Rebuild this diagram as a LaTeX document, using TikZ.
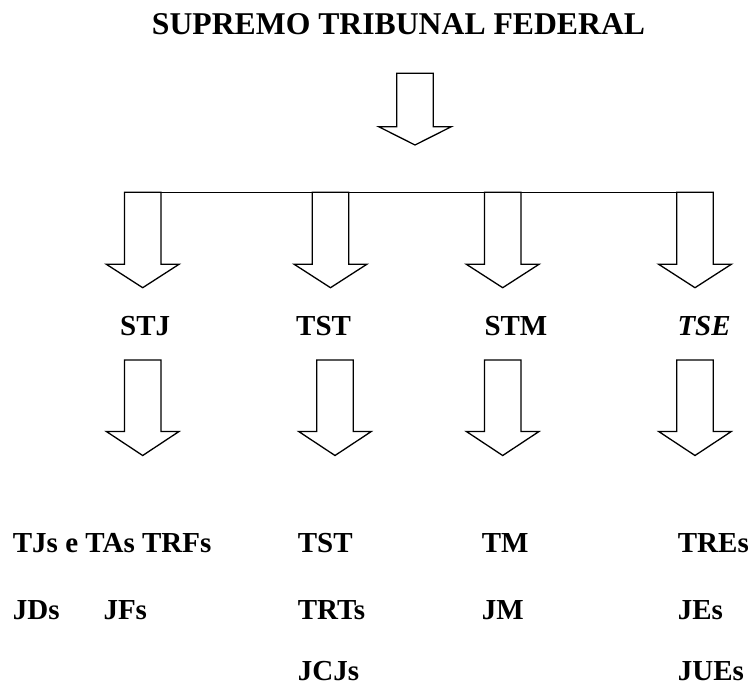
\documentclass[tikz,border=0pt]{standalone}
\usepackage{fontspec}
\setmainfont{Liberation Serif}
\newcommand\blockarrow[5]{% cx, top, headstart, tip, name
  \draw[arrowshape] (#1-18.3,#2) -- (#1+18.3,#2) -- (#1+18.3,#3) -- (#1+36.3,#3)
    -- (#1,#4) coordinate (#5) -- (#1-36.3,#3) -- (#1-18.3,#3) -- cycle;}
\begin{document}
\begin{tikzpicture}[x=1pt,y=-1pt,
  arrowshape/.style={draw=black,line width=1.3pt,fill=white,line join=miter},
  titlefont/.style={font=\fontsize{31.7}{38}\selectfont\bfseries,inner sep=0pt,anchor=base},
  lbl/.style={font=\fontsize{29}{35}\selectfont\bfseries,inner sep=0pt,anchor=base west},
  barline/.style={draw=black,line width=1.3pt}]
\useasboundingbox (0,0) rectangle (748,686);
\node[titlefont] (stf) at (398.5,34) {SUPREMO TRIBUNAL FEDERAL};
\blockarrow{415}{73.3}{126.7}{145}{a0}
\draw[barline] (124.4,192.3) coordinate (bl) -- (713.3,192.3) coordinate (br);
\blockarrow{142.7}{192.3}{264.3}{287.7}{a1}
\blockarrow{330.5}{192.3}{264.3}{287.7}{a2}
\blockarrow{502.7}{192.3}{264.3}{287.7}{a3}
\blockarrow{695}{192.3}{264.3}{287.7}{a4}
\node[lbl] (stj) at (120,335) {STJ};
\node[lbl] (tst) at (296,335) {TST};
\node[lbl] (stm) at (484.3,335) {STM};
\node[lbl,font=\fontsize{29}{35}\selectfont\bfseries\itshape] (tse) at (677.3,335) {TSE};
\blockarrow{142.7}{360}{431.5}{455.5}{b1}
\blockarrow{335}{360}{431.5}{455.5}{b2}
\blockarrow{502.7}{360}{431.5}{455.5}{b3}
\blockarrow{695}{360}{431.5}{455.5}{b4}
\node[lbl] (tjs) at (12.7,552) {TJs e TAs TRFs};
\node[lbl] (jds) at (12.7,619) {JDs};
\node[lbl] (jfs) at (103.3,619) {JFs};
\node[lbl] (tst2) at (297.7,552) {TST};
\node[lbl] (trts) at (297.7,619) {TRTs};
\node[lbl] (jcjs) at (297.7,680) {JCJs};
\node[lbl] (tm) at (481.7,552) {TM};
\node[lbl] (jm) at (481.7,619) {JM};
\node[lbl] (tres) at (677.7,552) {TREs};
\node[lbl] (jes) at (677.7,619) {JEs};
\node[lbl] (jues) at (677.7,680) {JUEs};
\end{tikzpicture}
\end{document}
